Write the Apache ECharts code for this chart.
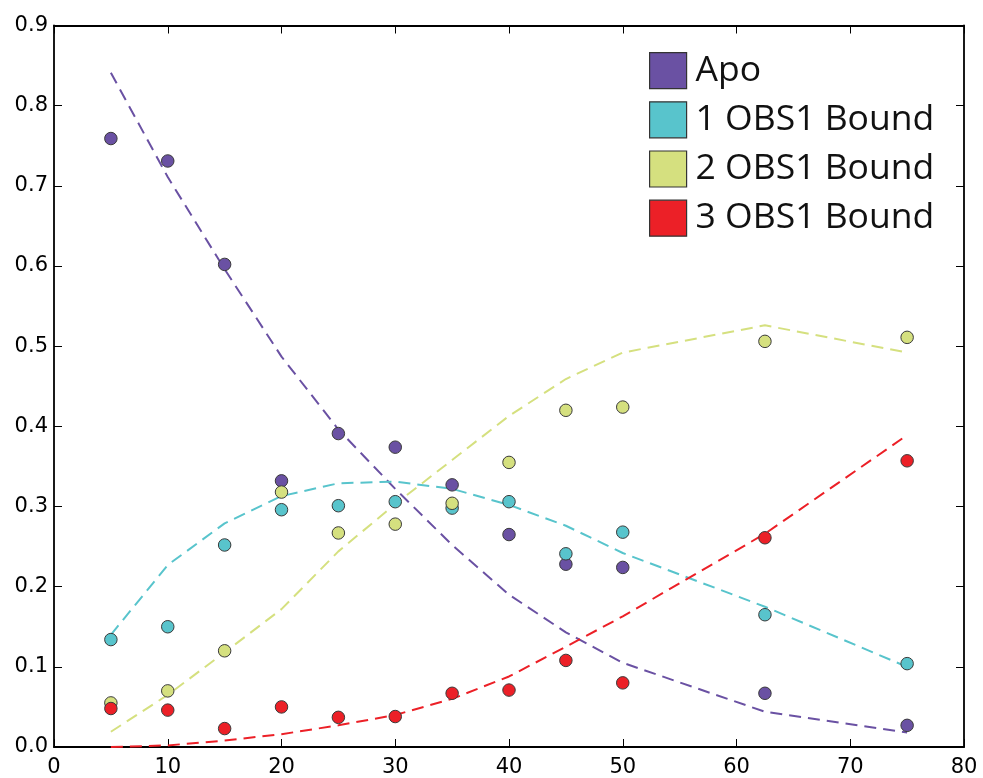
<!DOCTYPE html>
<html><head><meta charset="utf-8">
<script src="https://cdn.jsdelivr.net/npm/echarts@6/dist/echarts.min.js"></script>
<style>html,body{margin:0;padding:0;background:#fff}#c{width:983px;height:778px}</style>
</head><body><div id="c"></div>
<script>
const xVals = [5, 10, 15, 20, 25, 30, 35, 40, 45, 50, 62.5, 75];
const names = ['Apo', '1 OBS1 Bound', '2 OBS1 Bound', '3 OBS1 Bound'];
const colors = ['#6a51a3', '#58c4cc', '#d5e07f', '#ec2027'];
const apoObs = [0.759, 0.731, 0.602, 0.332, 0.391, 0.374, 0.327, 0.265, 0.228, 0.224, 0.067, 0.027];
const one_Obs = [0.134, 0.150, 0.252, 0.296, 0.301, 0.306, 0.298, 0.306, 0.241, 0.268, 0.165, 0.104];
const two_Obs = [0.055, 0.070, 0.120, 0.318, 0.267, 0.278, 0.304, 0.355, 0.420, 0.424, 0.506, 0.511];
const three_Obs = [0.048, 0.046, 0.023, 0.050, 0.037, 0.038, 0.067, 0.071, 0.108, 0.080, 0.261, 0.357];
const apoFit = [0.841, 0.711, 0.596, 0.487, 0.396, 0.322, 0.252, 0.190, 0.143, 0.105, 0.044, 0.018];
const one_Fit = [0.140, 0.227, 0.279, 0.313, 0.329, 0.331, 0.322, 0.302, 0.276, 0.242, 0.175, 0.100];
const two_Fit = [0.019, 0.065, 0.118, 0.172, 0.244, 0.303, 0.358, 0.413, 0.459, 0.492, 0.526, 0.492];
const three_Fit = [0.000, 0.002, 0.008, 0.016, 0.027, 0.040, 0.060, 0.088, 0.125, 0.163, 0.266, 0.389];

const obs = [apoObs, one_Obs, two_Obs, three_Obs];
const fits = [apoFit, one_Fit, two_Fit, three_Fit];
const pair = arr => xVals.map((x, i) => [x, arr[i]]);

const series = [];
fits.forEach((f, i) => series.push({
  type: 'line', name: names[i] + ' fit', data: pair(f), showSymbol: false, symbol: 'none',
  lineStyle: { color: colors[i], width: 2, type: [12, 7] }, z: 2, silent: true
}));
obs.forEach((o, i) => series.push({
  type: 'scatter', name: names[i], data: pair(o), symbol: 'circle', symbolSize: 12.5,
  itemStyle: { color: colors[i], borderColor: '#3a3a3a', borderWidth: 1, opacity: 1 }, z: 5
}));

function axisCommon() {
  return {
    axisLine: { show: true, onZero: false, lineStyle: { color: '#000', width: 1.8 } },
    axisTick: { show: true, inside: true, length: 8, lineStyle: { color: '#000', width: 1 } },
    splitLine: { show: false }
  };
}
const chart = echarts.init(document.getElementById('c'), null, { renderer: 'canvas' });
chart.setOption({
  animation: false,
  backgroundColor: '#fff',
  grid: { left: 54, right: 19, top: 25.5, bottom: 29.5, containLabel: false },
  legend: {
    orient: 'vertical', left: 644, top: 47, icon: 'rect',
    itemWidth: 37, itemHeight: 36, itemGap: 12,
    data: names,
    textStyle: { fontFamily: 'Open Sans', fontSize: 35.5, color: '#111', lineHeight: 36, padding: [0, 0, 0, 4] },
    itemStyle: { borderColor: '#333', borderWidth: 1.2 }
  },
  xAxis: [
    Object.assign({ type: 'value', min: 0, max: 80, interval: 10, position: 'bottom',
      axisLabel: { fontFamily: 'DejaVu Sans', fontSize: 21, color: '#000', margin: 10 } }, axisCommon()),
    Object.assign({ type: 'value', min: 0, max: 80, interval: 10, position: 'top',
      axisLabel: { show: false } }, axisCommon())
  ],
  yAxis: [
    Object.assign({ type: 'value', min: 0, max: 0.9, interval: 0.1, position: 'left',
      axisLabel: { fontFamily: 'DejaVu Sans', fontSize: 21, color: '#000', margin: 6,
        formatter: v => v.toFixed(1) } }, axisCommon()),
    Object.assign({ type: 'value', min: 0, max: 0.9, interval: 0.1, position: 'right',
      axisLabel: { show: false } }, axisCommon())
  ],
  series: series
});
</script></body></html>
